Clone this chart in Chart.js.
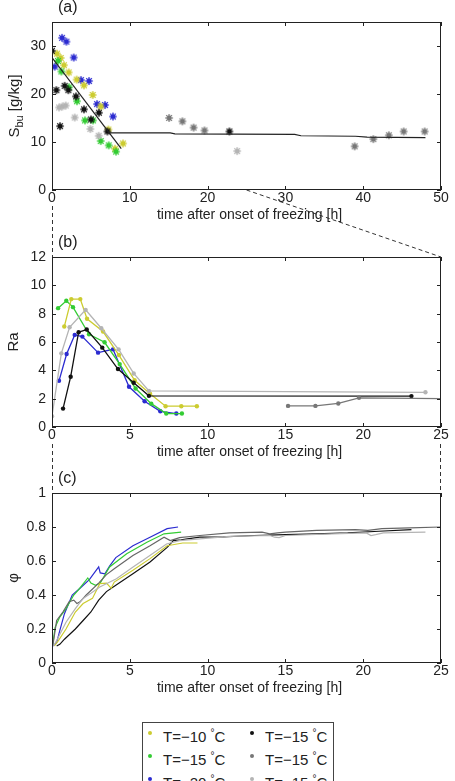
<!DOCTYPE html>
<html>
<head>
<meta charset="utf-8">
<script src="https://cdn.jsdelivr.net/npm/chart.js@4.4.0/dist/chart.umd.min.js"></script>
<style>
  html, body { margin: 0; padding: 0; background: #fff; }
  body { width: 455px; height: 781px; position: relative; overflow: hidden; font-family: "Liberation Sans", Arial, sans-serif; }
  canvas { position: absolute; left: 0; }
  #links { top: 0; z-index: 0; }
  .panel { z-index: 1; }
  #legend { position: absolute; left: 142px; top: 722px; width: 190px; height: 80px; border: 1px solid #444; background: #fff; z-index: 2; }
  .item { position: absolute; font-size: 15px; color: #222; line-height: 23px; white-space: nowrap; }
  .dot { position: absolute; width: 4px; height: 4px; border-radius: 2px; top: 10px; }
  .item span.txt { position: absolute; left: 15px; }
  sup { font-size: 10px; vertical-align: 6px; }
</style>
</head>
<body>
<canvas id="links" width="455" height="781"></canvas>
<canvas id="chartA" class="panel" width="455" height="225" style="top:0"></canvas>
<canvas id="chartB" class="panel" width="455" height="235" style="top:225px"></canvas>
<canvas id="chartC" class="panel" width="455" height="238" style="top:460px"></canvas>
<div id="legend"></div>
<script>
// colours of the six experiments
const colYellow = '#cccc30';
const colGreen = '#33cc33';
const colBlue = '#2b2bd0';
const colBlack = '#111111';
const colDark = '#777777';
const colLight = '#b4b4b4';

// ---- (a) bulk salinity S_bu [g/kg] vs time [h]
const sYellowT = [0.64, 1.12, 1.54, 2.15, 3.17, 4.11, 5.23, 6.26, 7.25, 8.1, 9.13];
const sYellowS = [28.4, 27.5, 26.0, 24.5, 23.0, 21.8, 19.8, 17.4, 12.6, 8.6, 9.7];
const sGreenT = [0.77, 1.2, 2.19, 3.21, 4.24, 5.27, 6.26, 7.29, 8.23];
const sGreenS = [26.9, 24.7, 21.4, 18.5, 14.5, 14.5, 10.2, 9.3, 8.0];
const sBlueT = [0.35, 1.29, 1.85, 2.79, 3.73, 4.76, 5.79, 6.82, 7.84];
const sBlueS = [25.7, 31.7, 30.9, 27.6, 22.9, 22.7, 17.9, 17.7, 15.3];
const sBlackT = [0, 0.56, 1.03, 1.63, 2.1, 3.08, 4.11, 5.01, 6.04, 7.12, 22.8];
const sBlackS = [29.0, 20.8, 13.3, 21.7, 20.8, 19.5, 16.8, 14.7, 16.1, 12.2, 12.2];
const sDarkT = [15.05, 16.76, 18.2, 19.6, 38.9, 41.3, 43.3, 45.2, 47.9];
const sDarkS = [15.0, 14.3, 13.0, 12.4, 9.1, 10.6, 11.4, 12.2, 12.2];
const sLightT = [0.9, 1.34, 1.76, 2.92, 4.93, 6.0, 23.8];
const sLightS = [17.2, 17.4, 17.6, 15.1, 12.7, 11.3, 8.1];
const fitT = [0, 8.9];
const fitS = [27.6, 8.6];
const plateauT = [7.2, 15.2, 15.8, 31.2, 32, 39, 40.5, 48];
const plateauS = [11.9, 11.9, 11.7, 11.6, 11.3, 11.2, 11.0, 10.9];

// ---- (b) Rayleigh number Ra vs time [h]
const rYellowT = [0.79, 1.24, 1.82, 2.25, 3.28, 4.3, 5.31, 6.3, 7.3, 8.31, 9.31];
const rYellowR = [7.09, 9.03, 9.03, 7.64, 6.74, 5.08, 3.3, 2.35, 1.47, 1.47, 1.47];
const rGreenT = [0.39, 0.92, 1.35, 2.38, 3.38, 4.35, 5.37, 6.38, 7.34, 8.35];
const rGreenR = [8.39, 8.91, 8.46, 6.55, 5.98, 4.44, 2.72, 1.65, 0.95, 0.95];
const rBlueT = [0.45, 0.94, 1.46, 1.95, 2.96, 3.92, 4.95, 5.95, 6.96, 7.99];
const rBlueR = [3.26, 5.15, 6.5, 6.38, 5.25, 5.48, 2.84, 1.82, 1.11, 0.95];
const rBlackT = [0.71, 1.2, 1.71, 2.23, 3.23, 4.24, 5.25, 6.23, 23.1];
const rBlackR = [1.3, 3.55, 6.69, 6.88, 5.6, 4.09, 3.12, 2.2, 2.18];
const rDarkT = [15.17, 16.93, 18.4, 19.73, 25];
const rDarkR = [1.49, 1.49, 1.66, 2.06, 2.0];
const rLightT = [0, 0.6, 1.13, 2.16, 3.17, 4.28, 5.25, 6.23, 24.0];
const rLightR = [0.76, 5.2, 7.04, 8.27, 6.97, 5.48, 3.78, 2.55, 2.45];

// ---- (c) solid fraction phi vs time [h]
const pBlueT = [0.05, 0.3, 0.5, 0.8, 1.3, 1.8, 2.4, 3.0, 3.1, 3.4, 3.7, 4.1, 5.2, 6.3, 7.4, 8.1];
const pBlueP = [0.10, 0.12, 0.19, 0.29, 0.40, 0.44, 0.49, 0.565, 0.53, 0.525, 0.57, 0.62, 0.69, 0.74, 0.79, 0.80];
const pGreenT = [0.05, 0.2, 0.5, 0.9, 1.4, 1.7, 2.3, 2.5, 2.8, 3.1, 3.7, 4.8, 6.1, 7.2, 8.3];
const pGreenP = [0.11, 0.21, 0.27, 0.32, 0.40, 0.43, 0.50, 0.47, 0.457, 0.47, 0.565, 0.643, 0.71, 0.76, 0.77];
const pDarkT = [0.05, 0.3, 0.7, 1.1, 1.4, 1.6, 1.8, 2.2, 3.0, 3.5, 4.0, 5.2, 6.3, 7.2, 7.6, 8.2, 9.5, 11.4, 13.5, 14.0, 14.5, 15, 17, 19.5, 20.3, 20.7, 21.2, 23, 25];
const pDarkP = [0.10, 0.25, 0.30, 0.36, 0.37, 0.35, 0.36, 0.40, 0.47, 0.52, 0.555, 0.633, 0.69, 0.74, 0.72, 0.737, 0.75, 0.765, 0.77, 0.76, 0.765, 0.77, 0.78, 0.785, 0.78, 0.785, 0.79, 0.795, 0.80];
const pBlackT = [0.3, 0.5, 0.8, 1.5, 2.0, 2.5, 3.0, 3.5, 4.1, 5.2, 6.3, 7.4, 7.8, 8.3, 8.7, 9.5, 11, 13, 15, 17, 19, 21, 23.1];
const pBlackP = [0.10, 0.11, 0.14, 0.20, 0.25, 0.30, 0.37, 0.42, 0.457, 0.525, 0.594, 0.68, 0.72, 0.725, 0.73, 0.74, 0.742, 0.75, 0.755, 0.76, 0.765, 0.775, 0.785];
const pYellowT = [0.15, 0.4, 0.9, 1.5, 2.0, 2.6, 3.07, 3.5, 3.8, 4.0, 5.2, 6.3, 7.4, 8.4, 9.35];
const pYellowP = [0.10, 0.13, 0.20, 0.30, 0.35, 0.38, 0.467, 0.47, 0.44, 0.476, 0.545, 0.614, 0.69, 0.706, 0.706];
const pLightT = [0.1, 0.4, 0.9, 1.5, 2.0, 2.5, 3.07, 4.14, 5.21, 6.29, 7.36, 8.2, 9.5, 11.4, 14.0, 14.3, 14.6, 15, 18, 20.2, 20.5, 20.8, 21.3, 24];
const pLightP = [0.10, 0.15, 0.24, 0.32, 0.38, 0.41, 0.447, 0.496, 0.565, 0.633, 0.70, 0.72, 0.73, 0.745, 0.75, 0.74, 0.738, 0.75, 0.76, 0.765, 0.75, 0.755, 0.765, 0.77];

// axis ticks
const xTicksA = [0, 10, 20, 30, 40, 50];
const yTicksA = [0, 10, 20, 30];
const xTicksBC = [0, 5, 10, 15, 20, 25];
const yTicksB = [0, 2, 4, 6, 8, 10, 12];
const yTicksC = [0, 0.2, 0.4, 0.6, 0.8, 1];

// legend
const legendLabels = ['T=\u221210 ', 'T=\u221215 ', 'T=\u221215 ', 'T=\u221215 ', 'T=\u221220 ', 'T=\u221215 '];
const legendColors = [colYellow, colBlack, colGreen, colDark, colBlue, colLight];

const FONT = '"Liberation Sans", Arial, sans-serif';
const toXY = (xs, ys) => xs.map((v, i) => ({ x: v, y: ys[i] }));

// small asterisk marker used in panel (a)
function starMarker(color) {
    const c = document.createElement('canvas');
    c.width = 10; c.height = 10;
    const g = c.getContext('2d');
    g.strokeStyle = color; g.fillStyle = color; g.lineWidth = 1.2;
    g.beginPath();
    for (let k = 0; k < 4; k++) {
        const a = k * Math.PI / 4;
        g.moveTo(5 - 4 * Math.cos(a), 5 - 4 * Math.sin(a));
        g.lineTo(5 + 4 * Math.cos(a), 5 + 4 * Math.sin(a));
    }
    g.stroke();
    g.beginPath(); g.arc(5, 5, 2.5, 0, Math.PI * 2); g.fill();
    return c;
}

// box, inward ticks, panel letter and axis titles (matlab look)
const framePlugin = {
    id: 'frame',
    afterDraw(chart, args, opts) {
        const { ctx, chartArea: a, scales } = chart;
        ctx.save();
        ctx.strokeStyle = '#222';
        ctx.lineWidth = 1;
        ctx.strokeRect(a.left + 0.5, a.top + 0.5, a.right - a.left - 1, a.bottom - a.top - 1);
        ctx.beginPath();
        opts.xTicks.forEach(v => {
            const px = Math.round(scales.x.getPixelForValue(v)) + 0.5;
            ctx.moveTo(px, a.bottom); ctx.lineTo(px, a.bottom - 4);
            ctx.moveTo(px, a.top); ctx.lineTo(px, a.top + 4);
        });
        opts.yTicks.forEach(v => {
            const py = Math.round(scales.y.getPixelForValue(v)) + 0.5;
            ctx.moveTo(a.left, py); ctx.lineTo(a.left + 4, py);
            ctx.moveTo(a.right, py); ctx.lineTo(a.right - 4, py);
        });
        ctx.stroke();

        ctx.fillStyle = '#222';
        ctx.textBaseline = 'middle';
        ctx.font = '16px ' + FONT;
        ctx.textAlign = 'left';
        ctx.fillText(opts.label, a.left + 6, a.top - 14);

        ctx.font = '14px ' + FONT;
        ctx.textAlign = 'center';
        ctx.fillText('time after onset of freezing [h]', (a.left + a.right) / 2 + 3, a.bottom + 25);

        // y title, pieces may carry a subscript
        ctx.translate(opts.yTitleX, (a.top + a.bottom) / 2);
        ctx.rotate(-Math.PI / 2);
        ctx.textAlign = 'left';
        ctx.textBaseline = 'alphabetic';
        let w = 0;
        opts.yTitle.forEach(p => { ctx.font = p.size + 'px ' + FONT; w += ctx.measureText(p.t).width; });
        let x = -w / 2;
        opts.yTitle.forEach(p => {
            ctx.font = p.size + 'px ' + FONT;
            ctx.fillText(p.t, x, 5 + (p.dy || 0));
            x += ctx.measureText(p.t).width;
        });
        ctx.restore();
    }
};

function makeChart(id, datasets, xMax, yMax, xTicks, yTicks, frame, padTop, xAxisH, yFmt) {
    return new Chart(document.getElementById(id), {
        type: 'scatter',
        data: { datasets },
        options: {
            responsive: false,
            animation: false,
            events: [],
            layout: { padding: { top: padTop, right: 14, bottom: 0, left: 0 } },
            plugins: { legend: { display: false }, tooltip: { enabled: false }, frame },
            scales: {
                x: {
                    type: 'linear', min: 0, max: xMax,
                    grid: { display: false, drawTicks: false },
                    border: { display: false },
                    ticks: { padding: 0, color: '#222', font: { family: FONT, size: 14 } },
                    afterBuildTicks: s => { s.ticks = xTicks.map(v => ({ value: v })); },
                    afterFit: s => { s.height = xAxisH; s.paddingLeft = 0; s.paddingRight = 0; }
                },
                y: {
                    type: 'linear', min: 0, max: yMax,
                    grid: { display: false, drawTicks: false },
                    border: { display: false },
                    ticks: { padding: 6, color: '#222', font: { family: FONT, size: 14 }, callback: yFmt },
                    afterBuildTicks: s => { s.ticks = yTicks.map(v => ({ value: v })); },
                    afterFit: s => { s.width = 52; s.paddingTop = 0; s.paddingBottom = 0; }
                }
            }
        },
        plugins: [framePlugin]
    });
}

function stars(xs, ys, color) {
    return { data: toXY(xs, ys), pointStyle: starMarker(color), pointRadius: 3, showLine: false };
}
function dotLine(xs, ys, color, radii) {
    return { data: toXY(xs, ys), showLine: true, borderColor: color, borderWidth: 1.3,
             pointRadius: radii || 2.2, pointBackgroundColor: color, pointBorderWidth: 0, tension: 0 };
}
function plainLine(xs, ys, color, width) {
    return { data: toXY(xs, ys), showLine: true, borderColor: color, borderWidth: width || 1.2,
             pointRadius: 0, tension: 0 };
}

const chartA = makeChart('chartA', [
    plainLine(fitT, fitS, '#222', 1.2),
    plainLine(plateauT, plateauS, '#222', 1.2),
    stars(sLightT, sLightS, colLight),
    stars(sDarkT, sDarkS, colDark),
    stars(sBlackT, sBlackS, colBlack),
    stars(sGreenT, sGreenS, colGreen),
    stars(sYellowT, sYellowS, colYellow),
    stars(sBlueT, sBlueS, colBlue)
], 50, 35, xTicksA, yTicksA, { label: '(a)', yTitleX: 14, xTicks: xTicksA, yTicks: yTicksA,
    yTitle: [{ t: 'S', size: 15 }, { t: 'bu', size: 11, dy: 4 }, { t: ' [g/kg]', size: 15 }] }, 22, 35);

const chartB = makeChart('chartB', [
    dotLine(rLightT, rLightR, colLight),
    dotLine(rDarkT, rDarkR, colDark, [2.2, 2.2, 2.2, 2.2, 0]),
    dotLine(rBlackT, rBlackR, colBlack),
    dotLine(rYellowT, rYellowR, colYellow),
    dotLine(rGreenT, rGreenR, colGreen),
    dotLine(rBlueT, rBlueR, colBlue)
], 25, 12, xTicksBC, yTicksB, { label: '(b)', yTitleX: 13, xTicks: xTicksBC, yTicks: yTicksB,
    yTitle: [{ t: 'Ra', size: 15 }] }, 32, 33);

const chartC = makeChart('chartC', [
    plainLine(pLightT, pLightP, colLight),
    plainLine(pYellowT, pYellowP, colYellow),
    plainLine(pBlackT, pBlackP, colBlack),
    plainLine(pDarkT, pDarkP, '#666666'),
    plainLine(pGreenT, pGreenP, colGreen),
    plainLine(pBlueT, pBlueP, colBlue)
], 25, 1, xTicksBC, yTicksC, { label: '(c)', yTitleX: 13, xTicks: xTicksBC, yTicks: yTicksC,
    yTitle: [{ t: '\u03c6', size: 15 }] }, 33, 35, v => String(+v.toFixed(1)));

// dashed zoom connectors between panels, computed from the chart scales
(function drawLinks() {
    const g = document.getElementById('links').getContext('2d');
    const a = chartA.chartArea, b = chartB.chartArea, c = chartC.chartArea;
    const offB = 225, offC = 460;
    g.strokeStyle = '#333'; g.lineWidth = 1; g.setLineDash([4, 3]);
    g.beginPath();
    const x0 = Math.round(chartA.scales.x.getPixelForValue(0)) + 0.5;
    const x25 = chartA.scales.x.getPixelForValue(25);
    g.moveTo(x0, a.bottom + 16); g.lineTo(x0, b.top + offB);
    g.moveTo(x25, a.bottom); g.lineTo(b.right, b.top + offB);
    const bl = Math.round(b.left) + 0.5, br = Math.round(b.right) - 0.5;
    g.moveTo(bl, b.bottom + offB + 17); g.lineTo(bl, c.top + offC);
    g.moveTo(br, b.bottom + offB + 17); g.lineTo(br, c.top + offC);
    g.stroke();
})();

// legend (two columns, third row cut by the page edge)
const legendEl = document.getElementById('legend');
legendLabels.forEach((lab, i) => {
    const item = document.createElement('div');
    item.className = 'item';
    item.style.left = (i % 2 === 0 ? 5 : 107) + 'px';
    item.style.top = (-2 + Math.floor(i / 2) * 23) + 'px';
    item.innerHTML = `<div class="dot" style="left:0;background:${legendColors[i]}"></div>` +
        `<span class="txt">${lab}<sup>°</sup>C</span>`;
    legendEl.appendChild(item);
});
</script>
</body>
</html>
